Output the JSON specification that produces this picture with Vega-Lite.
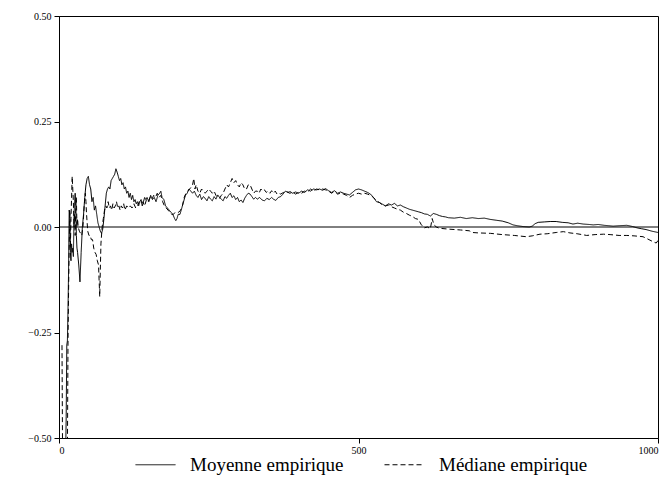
{
  "$schema": "https://vega.github.io/schema/vega-lite/v6.json",
  "width": 599,
  "height": 422,
  "autosize": {"type": "none"},
  "padding": {"left": 59, "top": 16, "right": 12, "bottom": 43},
  "background": "white",
  "config": {
    "font": "Liberation Serif",
    "view": {"stroke": "black", "strokeWidth": 1},
    "axis": {"grid": false, "domainColor": "black", "tickColor": "black", "labelColor": "black", "labelFont": "Liberation Serif", "labelFontSize": 10, "tickSize": 5, "title": null}
  },
  "datasets": {
    "moy": [
      {"n":11,"v":-0.55},{"n":12,"v":-0.45},{"n":13,"v":-0.28},{"n":14,"v":-0.27},{"n":15,"v":-0.2},{"n":16,"v":-0.1},{"n":17,"v":0.04},{"n":18,"v":0.03},{"n":19,"v":-0.06},{"n":20,"v":-0.08},{"n":21,"v":-0.04},{"n":22,"v":-0.06},{"n":23,"v":-0.05},{"n":24,"v":-0.07},{"n":25,"v":0.02},{"n":26,"v":0.06},{"n":27,"v":0.08},{"n":28,"v":0.05},{"n":29,"v":-0.02},{"n":30,"v":-0.05},{"n":31,"v":-0.06},{"n":33,"v":-0.09},{"n":35,"v":-0.13},{"n":37,"v":-0.06},{"n":39,"v":0},{"n":41,"v":0.03},{"n":43,"v":0.07},{"n":45,"v":0.1},{"n":47,"v":0.115},{"n":49,"v":0.12},{"n":51,"v":0.1},{"n":53,"v":0.09},{"n":55,"v":0.06},{"n":57,"v":0.07},{"n":59,"v":0.04},{"n":61,"v":0.05},{"n":63,"v":0.03},{"n":65,"v":0.01},{"n":67,"v":0},{"n":69,"v":-0.01},{"n":71,"v":-0.015},{"n":73,"v":-0.005},{"n":75,"v":0.02},{"n":77,"v":0.05},{"n":79,"v":0.08},{"n":81,"v":0.09},{"n":83,"v":0.095},{"n":85,"v":0.09},{"n":87,"v":0.11},{"n":89,"v":0.115},{"n":91,"v":0.12},{"n":93,"v":0.125},{"n":95,"v":0.138},{"n":97,"v":0.13},{"n":99,"v":0.12},{"n":101,"v":0.11},{"n":103,"v":0.115},{"n":105,"v":0.1},{"n":107,"v":0.105},{"n":109,"v":0.09},{"n":111,"v":0.095},{"n":113,"v":0.08},{"n":115,"v":0.085},{"n":117,"v":0.07},{"n":119,"v":0.08},{"n":121,"v":0.065},{"n":123,"v":0.075},{"n":125,"v":0.06},{"n":127,"v":0.065},{"n":129,"v":0.055},{"n":131,"v":0.06},{"n":133,"v":0.05},{"n":135,"v":0.06},{"n":137,"v":0.065},{"n":139,"v":0.05},{"n":141,"v":0.06},{"n":143,"v":0.07},{"n":145,"v":0.065},{"n":147,"v":0.07},{"n":150,"v":0.06},{"n":153,"v":0.075},{"n":156,"v":0.065},{"n":159,"v":0.07},{"n":162,"v":0.06},{"n":165,"v":0.075},{"n":168,"v":0.08},{"n":170,"v":0.085},{"n":172,"v":0.07},{"n":175,"v":0.065},{"n":178,"v":0.05},{"n":181,"v":0.045},{"n":184,"v":0.04},{"n":187,"v":0.035},{"n":190,"v":0.03},{"n":193,"v":0.02},{"n":195,"v":0.015},{"n":197,"v":0.02},{"n":199,"v":0.03},{"n":202,"v":0.03},{"n":205,"v":0.045},{"n":208,"v":0.06},{"n":211,"v":0.075},{"n":214,"v":0.08},{"n":217,"v":0.09},{"n":220,"v":0.085},{"n":223,"v":0.08},{"n":226,"v":0.085},{"n":229,"v":0.075},{"n":232,"v":0.07},{"n":235,"v":0.078},{"n":238,"v":0.065},{"n":241,"v":0.072},{"n":244,"v":0.068},{"n":247,"v":0.062},{"n":250,"v":0.072},{"n":253,"v":0.066},{"n":256,"v":0.062},{"n":259,"v":0.072},{"n":262,"v":0.066},{"n":265,"v":0.076},{"n":268,"v":0.07},{"n":271,"v":0.066},{"n":274,"v":0.062},{"n":277,"v":0.072},{"n":280,"v":0.068},{"n":283,"v":0.075},{"n":286,"v":0.08},{"n":289,"v":0.07},{"n":292,"v":0.074},{"n":295,"v":0.065},{"n":298,"v":0.07},{"n":301,"v":0.06},{"n":304,"v":0.064},{"n":307,"v":0.058},{"n":310,"v":0.068},{"n":313,"v":0.075},{"n":316,"v":0.08},{"n":319,"v":0.078},{"n":322,"v":0.072},{"n":325,"v":0.066},{"n":328,"v":0.07},{"n":331,"v":0.066},{"n":335,"v":0.07},{"n":339,"v":0.064},{"n":343,"v":0.062},{"n":347,"v":0.068},{"n":351,"v":0.065},{"n":355,"v":0.07},{"n":358,"v":0.066},{"n":362,"v":0.063},{"n":366,"v":0.07},{"n":370,"v":0.072},{"n":374,"v":0.078},{"n":378,"v":0.085},{"n":382,"v":0.082},{"n":386,"v":0.084},{"n":390,"v":0.08},{"n":395,"v":0.083},{"n":400,"v":0.08},{"n":405,"v":0.085},{"n":410,"v":0.082},{"n":415,"v":0.088},{"n":420,"v":0.085},{"n":425,"v":0.09},{"n":430,"v":0.088},{"n":435,"v":0.09},{"n":440,"v":0.087},{"n":445,"v":0.091},{"n":450,"v":0.086},{"n":455,"v":0.082},{"n":460,"v":0.086},{"n":465,"v":0.08},{"n":470,"v":0.083},{"n":475,"v":0.08},{"n":480,"v":0.078},{"n":485,"v":0.076},{"n":490,"v":0.082},{"n":495,"v":0.088},{"n":500,"v":0.09},{"n":505,"v":0.088},{"n":510,"v":0.085},{"n":515,"v":0.082},{"n":520,"v":0.078},{"n":525,"v":0.07},{"n":530,"v":0.06},{"n":535,"v":0.058},{"n":540,"v":0.054},{"n":545,"v":0.05},{"n":550,"v":0.055},{"n":555,"v":0.052},{"n":560,"v":0.056},{"n":565,"v":0.05},{"n":570,"v":0.052},{"n":575,"v":0.048},{"n":580,"v":0.045},{"n":585,"v":0.042},{"n":590,"v":0.04},{"n":595,"v":0.038},{"n":600,"v":0.036},{"n":605,"v":0.034},{"n":610,"v":0.031},{"n":615,"v":0.03},{"n":620,"v":0.026},{"n":625,"v":0.032},{"n":630,"v":0.03},{"n":635,"v":0.027},{"n":640,"v":0.025},{"n":645,"v":0.024},{"n":650,"v":0.022},{"n":660,"v":0.021},{"n":670,"v":0.023},{"n":680,"v":0.02},{"n":690,"v":0.022},{"n":700,"v":0.02},{"n":710,"v":0.021},{"n":720,"v":0.018},{"n":730,"v":0.016},{"n":740,"v":0.014},{"n":750,"v":0.01},{"n":758,"v":0.005},{"n":765,"v":0.003},{"n":775,"v":0.001},{"n":785,"v":0},{"n":790,"v":0.002},{"n":795,"v":0.008},{"n":800,"v":0.011},{"n":810,"v":0.012},{"n":820,"v":0.013},{"n":830,"v":0.013},{"n":840,"v":0.011},{"n":850,"v":0.01},{"n":858,"v":0.007},{"n":866,"v":0.009},{"n":875,"v":0.007},{"n":885,"v":0.006},{"n":892,"v":0.005},{"n":900,"v":0.006},{"n":910,"v":0.004},{"n":918,"v":0.003},{"n":925,"v":0.002},{"n":935,"v":0.003},{"n":948,"v":0.004},{"n":958,"v":0.001},{"n":965,"v":-0.002},{"n":972,"v":-0.004},{"n":980,"v":-0.006},{"n":990,"v":-0.01},{"n":1000,"v":-0.013}
    ],
    "med": [
      {"n":5,"v":-0.28},{"n":6,"v":-0.55},{"n":14,"v":-0.55},{"n":15,"v":-0.28},{"n":16,"v":-0.15},{"n":17,"v":-0.05},{"n":18,"v":0.04},{"n":19,"v":-0.05},{"n":20,"v":0.02},{"n":22,"v":0.12},{"n":24,"v":0.06},{"n":25,"v":0},{"n":26,"v":0.03},{"n":27,"v":-0.02},{"n":28,"v":0.05},{"n":29,"v":0.07},{"n":30,"v":0},{"n":31,"v":0.02},{"n":32,"v":0},{"n":34,"v":-0.01},{"n":36,"v":-0.015},{"n":38,"v":-0.02},{"n":40,"v":0},{"n":42,"v":0.05},{"n":44,"v":0.08},{"n":45,"v":0.06},{"n":46,"v":0.03},{"n":48,"v":-0.01},{"n":50,"v":-0.02},{"n":52,"v":-0.02},{"n":54,"v":-0.03},{"n":56,"v":-0.03},{"n":58,"v":-0.05},{"n":60,"v":-0.06},{"n":62,"v":-0.065},{"n":64,"v":-0.08},{"n":66,"v":-0.09},{"n":68,"v":-0.165},{"n":69,"v":-0.1},{"n":70,"v":-0.04},{"n":72,"v":0},{"n":74,"v":0.02},{"n":76,"v":0.04},{"n":78,"v":0.05},{"n":80,"v":0.045},{"n":82,"v":0.06},{"n":84,"v":0.045},{"n":86,"v":0.05},{"n":88,"v":0.04},{"n":90,"v":0.055},{"n":92,"v":0.045},{"n":94,"v":0.05},{"n":96,"v":0.06},{"n":98,"v":0.045},{"n":100,"v":0.05},{"n":102,"v":0.04},{"n":104,"v":0.05},{"n":106,"v":0.045},{"n":108,"v":0.055},{"n":110,"v":0.04},{"n":113,"v":0.05},{"n":116,"v":0.045},{"n":119,"v":0.05},{"n":122,"v":0.045},{"n":125,"v":0.055},{"n":128,"v":0.045},{"n":131,"v":0.05},{"n":134,"v":0.06},{"n":137,"v":0.055},{"n":140,"v":0.06},{"n":143,"v":0.05},{"n":146,"v":0.065},{"n":149,"v":0.06},{"n":152,"v":0.07},{"n":155,"v":0.065},{"n":158,"v":0.075},{"n":161,"v":0.07},{"n":164,"v":0.08},{"n":167,"v":0.07},{"n":170,"v":0.075},{"n":173,"v":0.06},{"n":176,"v":0.05},{"n":179,"v":0.045},{"n":182,"v":0.04},{"n":185,"v":0.035},{"n":188,"v":0.03},{"n":191,"v":0.03},{"n":194,"v":0.035},{"n":197,"v":0.035},{"n":200,"v":0.035},{"n":203,"v":0.04},{"n":206,"v":0.05},{"n":209,"v":0.07},{"n":212,"v":0.08},{"n":215,"v":0.085},{"n":218,"v":0.09},{"n":221,"v":0.095},{"n":223,"v":0.1},{"n":225,"v":0.115},{"n":227,"v":0.09},{"n":229,"v":0.1},{"n":232,"v":0.085},{"n":235,"v":0.08},{"n":238,"v":0.09},{"n":241,"v":0.085},{"n":244,"v":0.08},{"n":247,"v":0.085},{"n":250,"v":0.09},{"n":253,"v":0.085},{"n":256,"v":0.08},{"n":259,"v":0.085},{"n":262,"v":0.075},{"n":265,"v":0.07},{"n":268,"v":0.068},{"n":271,"v":0.075},{"n":274,"v":0.08},{"n":277,"v":0.09},{"n":280,"v":0.1},{"n":283,"v":0.095},{"n":286,"v":0.105},{"n":289,"v":0.115},{"n":292,"v":0.105},{"n":295,"v":0.11},{"n":298,"v":0.1},{"n":301,"v":0.095},{"n":304,"v":0.105},{"n":307,"v":0.1},{"n":310,"v":0.09},{"n":313,"v":0.09},{"n":316,"v":0.1},{"n":319,"v":0.1},{"n":322,"v":0.09},{"n":325,"v":0.08},{"n":328,"v":0.085},{"n":331,"v":0.085},{"n":334,"v":0.08},{"n":337,"v":0.09},{"n":340,"v":0.085},{"n":343,"v":0.088},{"n":346,"v":0.082},{"n":349,"v":0.085},{"n":352,"v":0.08},{"n":355,"v":0.086},{"n":358,"v":0.08},{"n":361,"v":0.085},{"n":364,"v":0.078},{"n":367,"v":0.08},{"n":370,"v":0.078},{"n":375,"v":0.082},{"n":380,"v":0.084},{"n":385,"v":0.08},{"n":390,"v":0.082},{"n":395,"v":0.078},{"n":400,"v":0.082},{"n":405,"v":0.08},{"n":410,"v":0.085},{"n":415,"v":0.083},{"n":420,"v":0.09},{"n":425,"v":0.085},{"n":430,"v":0.09},{"n":435,"v":0.088},{"n":440,"v":0.09},{"n":445,"v":0.088},{"n":450,"v":0.085},{"n":455,"v":0.08},{"n":460,"v":0.085},{"n":465,"v":0.078},{"n":470,"v":0.08},{"n":475,"v":0.078},{"n":480,"v":0.075},{"n":485,"v":0.07},{"n":490,"v":0.075},{"n":495,"v":0.078},{"n":500,"v":0.08},{"n":505,"v":0.078},{"n":510,"v":0.08},{"n":515,"v":0.078},{"n":520,"v":0.075},{"n":525,"v":0.07},{"n":530,"v":0.062},{"n":535,"v":0.058},{"n":540,"v":0.052},{"n":545,"v":0.05},{"n":550,"v":0.052},{"n":555,"v":0.048},{"n":560,"v":0.045},{"n":565,"v":0.042},{"n":570,"v":0.04},{"n":575,"v":0.035},{"n":580,"v":0.032},{"n":585,"v":0.028},{"n":590,"v":0.025},{"n":595,"v":0.02},{"n":600,"v":0.018},{"n":605,"v":0.005},{"n":610,"v":-0.002},{"n":615,"v":0},{"n":620,"v":-0.004},{"n":623,"v":0.02},{"n":626,"v":0.005},{"n":630,"v":0},{"n":635,"v":-0.003},{"n":650,"v":-0.005},{"n":670,"v":-0.007},{"n":685,"v":-0.009},{"n":690,"v":-0.013},{"n":700,"v":-0.014},{"n":720,"v":-0.015},{"n":740,"v":-0.018},{"n":760,"v":-0.02},{"n":780,"v":-0.023},{"n":790,"v":-0.021},{"n":803,"v":-0.017},{"n":815,"v":-0.016},{"n":830,"v":-0.013},{"n":842,"v":-0.011},{"n":853,"v":-0.014},{"n":865,"v":-0.016},{"n":881,"v":-0.02},{"n":895,"v":-0.018},{"n":909,"v":-0.017},{"n":920,"v":-0.018},{"n":935,"v":-0.02},{"n":948,"v":-0.02},{"n":960,"v":-0.021},{"n":975,"v":-0.023},{"n":985,"v":-0.03},{"n":992,"v":-0.035},{"n":997,"v":-0.038},{"n":1000,"v":-0.032}
    ]
  },
  "encoding": {
    "x": {"field": "n", "type": "quantitative", "scale": {"domain": [0, 1000], "nice": false, "zero": false},
          "axis": {"values": [0, 500, 1000], "format": "d", "labelPadding": 2}},
    "y": {"field": "v", "type": "quantitative", "scale": {"domain": [-0.5, 0.5], "nice": false},
          "axis": {"values": [-0.5, -0.25, 0, 0.25, 0.5], "format": ".2f", "labelPadding": 3}}
  },
  "layer": [
    {
      "data": {"name": "moy"},
      "mark": {"type": "line", "color": "black", "strokeWidth": 1, "clip": true},
      "encoding": {
        "strokeDash": {"datum": "Moyenne empirique", "type": "nominal",
          "scale": {"domain": ["Moyenne empirique", "Médiane empirique"], "range": [[1, 0], [5, 3]]},
          "legend": {"title": null, "orient": "none", "legendX": 76, "legendY": 428, "direction": "horizontal",
            "symbolType": "stroke", "symbolSize": 1600, "symbolStrokeWidth": 1, "symbolStrokeColor": "black",
            "labelFontSize": 19, "labelFont": "Liberation Serif", "labelColor": "black", "labelOffset": 14, "columnPadding": 38}}
      }
    },
    {
      "data": {"name": "med"},
      "mark": {"type": "line", "color": "black", "strokeWidth": 1, "clip": true},
      "encoding": {
        "strokeDash": {"datum": "Médiane empirique", "type": "nominal"}
      }
    },
    {
      "data": {"values": [{"v": 0}]},
      "mark": {"type": "rule", "color": "black", "strokeWidth": 1},
      "encoding": {"y": {"field": "v", "type": "quantitative"}, "x": null}
    }
  ]
}
